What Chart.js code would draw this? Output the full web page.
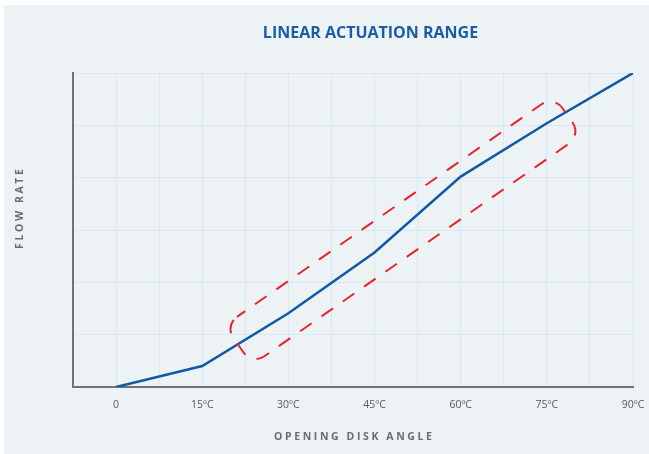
<!DOCTYPE html>
<html>
<head>
<meta charset="utf-8">
<script src="https://cdn.jsdelivr.net/npm/chart.js@4"></script>
<style>
  html, body { margin: 0; padding: 0; background: #fff; }
  canvas { display: block; }
</style>
</head>
<body>
<canvas id="chart" width="649" height="454"></canvas>
<script>
// ---- data ----
const ANGLES = [0, 15, 30, 45, 60, 75, 90];
const ANGLE_LABELS = ["0", "15ºC", "30ºC", "45ºC", "60ºC", "75ºC", "90ºC"];
const FLOW = [0, 0.4, 1.41, 2.57, 4.02, 5.04, 6];
// linear band (dashed capsule) end centres, in data units
const BAND_START = [21.3, 0.8];
const BAND_END = [78.6, 5.19];

const TITLE = "LINEAR ACTUATION RANGE";
const X_TITLE = "OPENING DISK ANGLE";
const Y_TITLE = "FLOW RATE";

// ---- extra drawing: panel, band, titles ----
const decor = {
  id: "decor",
  beforeDraw(chart) {
    const ctx = chart.ctx;
    ctx.save();
    ctx.fillStyle = "#edf2f5";
    ctx.fillRect(4, 5, chart.width - 4, chart.height - 5);
    ctx.restore();
  },
  afterDatasetsDraw(chart) {
    const ctx = chart.ctx;
    const xs = chart.scales.x, ys = chart.scales.y;
    const x0 = xs.getPixelForValue(BAND_START[0]), y0 = ys.getPixelForValue(BAND_START[1]);
    const x1 = xs.getPixelForValue(BAND_END[0]), y1 = ys.getPixelForValue(BAND_END[1]);
    const len = Math.hypot(x1 - x0, y1 - y0);
    ctx.save();
    ctx.translate(x0, y0);
    ctx.rotate(Math.atan2(y1 - y0, x1 - x0));
    ctx.beginPath();
    ctx.roundRect(0, -24, len, 48, 15);
    ctx.setLineDash([14, 12]);
    ctx.lineDashOffset = 4;
    ctx.strokeStyle = "#e8232b";
    ctx.lineWidth = 2;
    ctx.stroke();
    ctx.restore();
  },
  afterDraw(chart) {
    const ctx = chart.ctx;
    const area = chart.chartArea;
    ctx.save();
    ctx.textAlign = "center";
    ctx.textBaseline = "middle";

    ctx.font = "bold 16px 'Open Sans'";
    ctx.fillStyle = "#1a5ca6";
    ctx.fillText(TITLE, 370.5, 33.5);

    ctx.font = "bold 10.5px 'Open Sans'";
    ctx.letterSpacing = "2.6px";
    ctx.fillStyle = "#6a6d70";
    ctx.fillText(X_TITLE, (area.left + area.right) / 2 + 1.3, 437);

    ctx.translate(20, 209);
    ctx.rotate(-Math.PI / 2);
    ctx.fillText(Y_TITLE, 1.3, 0);
    ctx.restore();
  }
};

const GRID = "#d6e8f4";
const AXIS = "#707274";

new Chart(document.getElementById("chart"), {
  type: "line",
  data: {
    datasets: [{
      data: ANGLES.map((a, i) => ({ x: a, y: FLOW[i] })),
      borderColor: "#0f5aa5",
      borderWidth: 2.5,
      pointRadius: 0,
      tension: 0,
      fill: false
    }]
  },
  options: {
    responsive: false,
    animation: false,
    layout: { padding: { left: 72, right: 16, top: 73, bottom: 0 } },
    plugins: { legend: { display: false }, tooltip: { enabled: false } },
    scales: {
      x: {
        type: "linear",
        min: -7.5,
        max: 90,
        afterFit(scale) {
          scale.height = 67;
          scale.paddingLeft = 0;
          scale.paddingRight = 0;
        },
        grid: { color: GRID, lineWidth: 1, drawTicks: false },
        border: { color: AXIS, width: 2 },
        ticks: {
          stepSize: 7.5,
          autoSkip: false,
          maxRotation: 0,
          padding: 12,
          color: "#55585c",
          font: { family: "'Open Sans'", size: 10.5 },
          callback(v) {
            const i = ANGLES.indexOf(v);
            return i >= 0 ? ANGLE_LABELS[i] : "";
          }
        }
      },
      y: {
        min: 0,
        max: 6,
        afterFit(scale) {
          scale.width = 1;
          scale.paddingTop = 0;
          scale.paddingBottom = 0;
        },
        grid: { color: GRID, lineWidth: 1, drawTicks: false },
        border: { color: AXIS, width: 2 },
        ticks: { display: false, stepSize: 1 }
      }
    }
  },
  plugins: [decor]
});
</script>
</body>
</html>
